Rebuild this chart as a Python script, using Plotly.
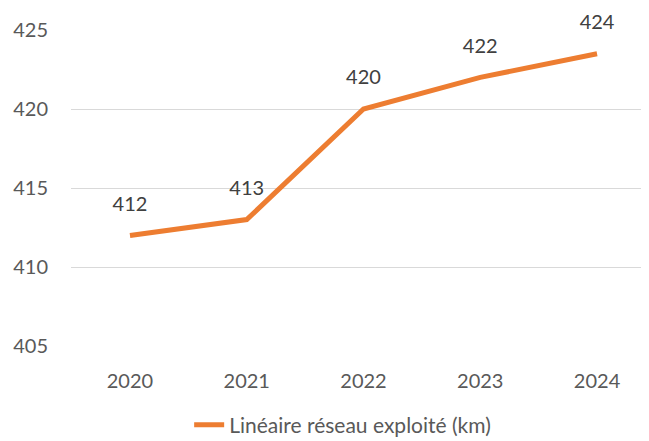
import plotly.graph_objects as go

# data
years = ["2020", "2021", "2022", "2023", "2024"]
lineaire_km = [412, 413, 420, 422, 423.5]
point_labels = ["412", "413", "420", "422", "424"]
y_ticks = [405, 410, 415, 420, 425]

orange = "#ED7D31"
grey_text = "#595959"
font_family = "Lato, 'Open Sans', sans-serif"

fig = go.Figure()
fig.add_trace(go.Scatter(
    x=years,
    y=lineaire_km,
    mode="lines",
    name="Linéaire réseau exploité (km)",
    line=dict(color=orange, width=5),
    hoverinfo="x+y",
))

# value labels above each point (invisible markers just push the text up)
fig.add_trace(go.Scatter(
    x=years,
    y=lineaire_km,
    mode="markers+text",
    text=point_labels,
    textposition="top center",
    textfont=dict(size=20, color="#404040", family=font_family),
    marker=dict(size=30, color="rgba(0,0,0,0)"),
    showlegend=False,
    hoverinfo="skip",
    cliponaxis=False,
))

# page body has an 8px default margin, so the figure is a bit smaller than the window
fig.update_layout(
    width=641, height=433,
    margin=dict(l=63, r=0, t=22, b=95, autoexpand=False),
    paper_bgcolor="white", plot_bgcolor="white",
    font=dict(family=font_family, size=20, color=grey_text),
    showlegend=True,
    legend=dict(orientation="h", x=0.47, xanchor="center", y=-0.25, yanchor="middle",
                font=dict(size=21, color=grey_text)),
    xaxis=dict(type="category", range=[-0.505, 4.445], showgrid=False,
               showline=False, zeroline=False, ticks="", ticklabelstandoff=21),
    yaxis=dict(range=[405, 425], tickvals=y_ticks, showgrid=True, gridcolor="#D9D9D9",
               gridwidth=1, zeroline=False, showline=False, ticks="",
               ticklabelstandoff=22),
)

fig.write_html("out.html")
